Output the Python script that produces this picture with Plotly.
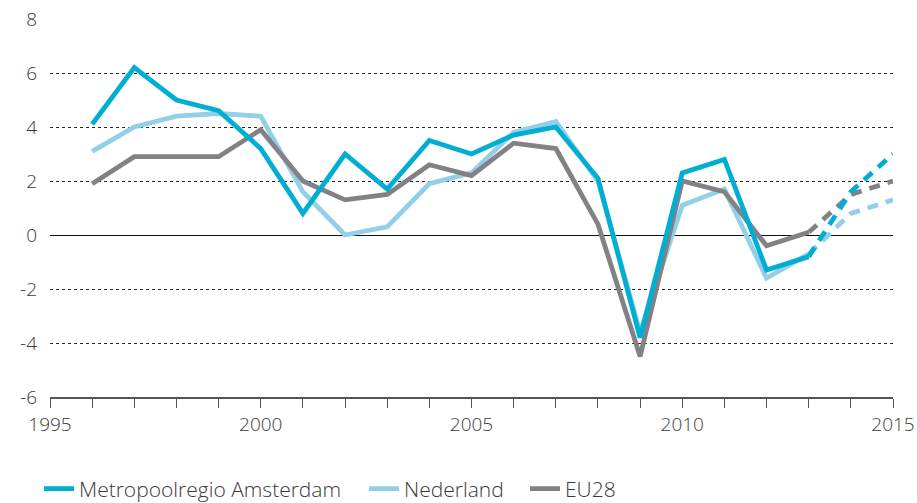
import plotly.graph_objects as go

years = list(range(1996, 2014))
forecast_years = [2013, 2014, 2015]

metro = [4.1, 6.2, 5.0, 4.6, 3.2, 0.8, 3.0, 1.7, 3.5, 3.0, 3.7, 4.0, 2.1, -3.8, 2.3, 2.8, -1.3, -0.8]
nederland = [3.1, 4.0, 4.4, 4.5, 4.4, 1.6, 0.0, 0.3, 1.9, 2.3, 3.8, 4.2, 2.0, -3.6, 1.1, 1.7, -1.6, -0.7]
eu28 = [1.9, 2.9, 2.9, 2.9, 3.9, 2.0, 1.3, 1.5, 2.6, 2.2, 3.4, 3.2, 0.4, -4.5, 2.0, 1.6, -0.4, 0.1]

metro_fc = [-0.8, 1.6, 3.0]
nederland_fc = [-0.7, 0.8, 1.3]
eu28_fc = [0.1, 1.5, 2.0]

names = ["Metropoolregio Amsterdam", "Nederland", "EU28"]
colors = ["#00aed3", "#92d0e7", "#818186"]
legend_ids = ["legend", "legend2", "legend3"]

x_tickvals = [1995, 2000, 2005, 2010, 2015]
y_tickvals = [-6, -4, -2, 0, 2, 4, 6, 8]

FONT = "Open Sans"
TXT = "#3a3a3a"

fig = go.Figure()

series = [(nederland, nederland_fc, 1), (eu28, eu28_fc, 2), (metro, metro_fc, 0)]
for vals, fc, idx in series:
    fig.add_trace(go.Scatter(
        x=years, y=vals, mode="lines", name=names[idx],
        line=dict(color=colors[idx], width=4.8), legend=legend_ids[idx],
    ))
    fig.add_trace(go.Scatter(
        x=forecast_years, y=fc, mode="lines", showlegend=False,
        line=dict(color=colors[idx], width=4.8, dash="11px,8px"),
    ))

def legend_at(xpx):
    return dict(orientation="h", xref="container", yref="container",
                x=xpx / 917, xanchor="left", y=0.028, yanchor="middle",
                font=dict(size=21, color=TXT, weight=300), itemwidth=30,
                bgcolor="rgba(0,0,0,0)")

fig.update_layout(
    width=917, height=503,
    margin=dict(l=50, r=24, t=19, b=106),
    paper_bgcolor="white", plot_bgcolor="white",
    font=dict(family=FONT, size=19, color=TXT, weight=300),
    showlegend=True,
    legend=legend_at(39),
    legend2=legend_at(364),
    legend3=legend_at(525),
    xaxis=dict(
        range=[1995, 2015], tickvals=x_tickvals, ticktext=[str(v) for v in x_tickvals],
        showgrid=False, zeroline=False, showline=True, linecolor="#555555", linewidth=1.5,
        ticks="outside", ticklen=9, tickcolor="#555555", tickwidth=1.2,
        minor=dict(dtick=1, tick0=1995, ticks="outside", ticklen=9, tickcolor="#555555", tickwidth=1.2, showgrid=False),
        tickfont=dict(size=19, color=TXT, weight=300), automargin=False,
    ),
    yaxis=dict(
        range=[-6, 8], tickvals=y_tickvals, ticktext=[str(v) for v in y_tickvals],
        showgrid=True, gridcolor="#222222", gridwidth=1, griddash="dot",
        zeroline=True, zerolinecolor="#111111", zerolinewidth=1.3,
        showline=False, ticks="", ticklabelstandoff=12,
        tickfont=dict(size=19, color=TXT, weight=300), automargin=False,
    ),
)

fig.write_html("out.html", config={"displayModeBar": False},
               post_script="document.body.style.margin='0';document.body.style.overflow='hidden';")
